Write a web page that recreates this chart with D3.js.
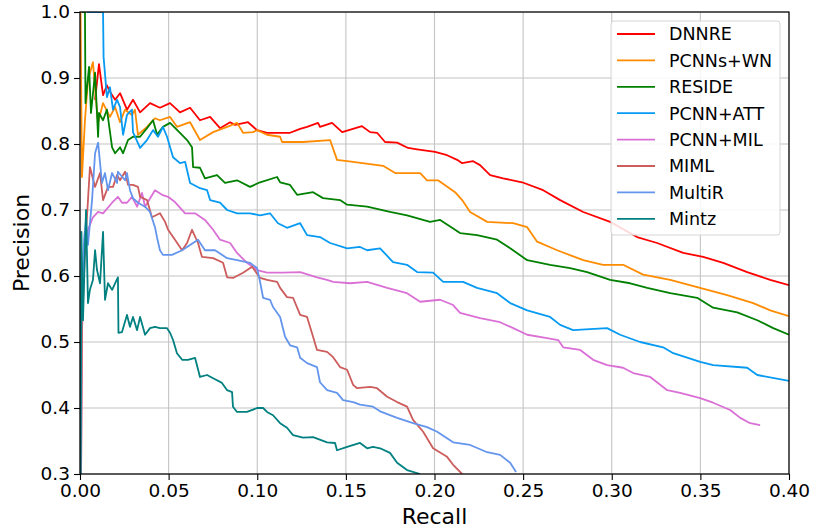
<!DOCTYPE html>
<html>
<head>
<meta charset="utf-8">
<script src="https://cdn.jsdelivr.net/npm/d3@7"></script>
<style>
  html, body { margin: 0; padding: 0; background: #fff; }
  svg { display: block; font-family: "DejaVu Sans", sans-serif; }
</style>
</head>
<body>
<svg id="chart" width="815" height="529"></svg>
<script>
// ---- data (recall, precision) ----
const seriesNames = ["DNNRE", "PCNNs+WN", "RESIDE", "PCNN+ATT", "PCNN+MIL", "MIML", "MultiR", "Mintz"];
const seriesColors = ["#ff0000", "#ff8c00", "#008000", "#069af3", "#da70d6", "#cd5c5c", "#6495ed", "#008080"];
const xTicks = [0, 0.05, 0.10, 0.15, 0.20, 0.25, 0.30, 0.35, 0.40];
const yTicks = [0.3, 0.4, 0.5, 0.6, 0.7, 0.8, 0.9, 1.0];

const dnnre = [[0.0085,0.867],[0.0107,0.921],[0.0130,0.874],[0.0152,0.889],[0.0169,0.879],[0.0198,0.867],[0.0226,0.877],[0.0265,0.852],[0.0299,0.867],[0.0339,0.848],[0.0395,0.862],[0.0451,0.855],[0.0508,0.862],[0.0564,0.848],[0.0621,0.855],[0.0677,0.836],[0.0734,0.841],[0.0790,0.824],[0.0847,0.833],[0.0875,0.829],[0.0948,0.833],[0.0999,0.821],[0.1055,0.817],[0.1185,0.817],[0.1242,0.823],[0.1281,0.826],[0.1343,0.832],[0.1354,0.826],[0.1422,0.832],[0.1479,0.818],[0.1591,0.827],[0.1637,0.818],[0.1676,0.817],[0.1721,0.803],[0.1789,0.802],[0.1851,0.794],[0.1902,0.792],[0.2003,0.788],[0.2071,0.783],[0.2128,0.776],[0.2156,0.771],[0.2218,0.774],[0.2257,0.768],[0.2314,0.753],[0.2387,0.748],[0.2494,0.742],[0.2613,0.730],[0.2709,0.715],[0.2839,0.697],[0.2991,0.682],[0.3143,0.659],[0.3256,0.650],[0.3403,0.635],[0.3516,0.629],[0.3629,0.620],[0.3764,0.606],[0.3894,0.594],[0.400,0.586]];

const pcnnsWn = [[0.0003,1.0],[0.0011,0.750],[0.0028,0.836],[0.0045,0.897],[0.0073,0.924],[0.0090,0.867],[0.0102,0.832],[0.0130,0.862],[0.0169,0.841],[0.0198,0.856],[0.0226,0.833],[0.0254,0.852],[0.0293,0.844],[0.0310,0.852],[0.0327,0.814],[0.0378,0.826],[0.0423,0.839],[0.0451,0.836],[0.0508,0.841],[0.0547,0.826],[0.0621,0.833],[0.0677,0.806],[0.0751,0.818],[0.0830,0.826],[0.0886,0.832],[0.0920,0.817],[0.0976,0.818],[0.0999,0.821],[0.1055,0.814],[0.1129,0.811],[0.1140,0.803],[0.1258,0.803],[0.1411,0.806],[0.1450,0.776],[0.1541,0.773],[0.1710,0.767],[0.1778,0.756],[0.1919,0.756],[0.1958,0.745],[0.2020,0.745],[0.2116,0.727],[0.2156,0.715],[0.2201,0.697],[0.2297,0.682],[0.2444,0.680],[0.2523,0.674],[0.2579,0.652],[0.2692,0.639],[0.2839,0.624],[0.2951,0.617],[0.3064,0.617],[0.3177,0.602],[0.3330,0.594],[0.3482,0.583],[0.3651,0.571],[0.3798,0.559],[0.3894,0.548],[0.400,0.539]];

const reside = [[0.0011,1.0],[0.0028,1.0],[0.0031,0.862],[0.0051,0.917],[0.0062,0.847],[0.0085,0.908],[0.0102,0.811],[0.0107,0.847],[0.0130,0.836],[0.0152,0.852],[0.0181,0.795],[0.0198,0.786],[0.0226,0.795],[0.0243,0.786],[0.0271,0.806],[0.0299,0.811],[0.0339,0.811],[0.0378,0.824],[0.0412,0.836],[0.0435,0.814],[0.0468,0.826],[0.0508,0.832],[0.0564,0.817],[0.0604,0.806],[0.0632,0.795],[0.0638,0.765],[0.0677,0.764],[0.0705,0.748],[0.0773,0.753],[0.0818,0.741],[0.0886,0.745],[0.0959,0.735],[0.1016,0.742],[0.1112,0.750],[0.1129,0.742],[0.1185,0.738],[0.1225,0.723],[0.1315,0.727],[0.1371,0.718],[0.1467,0.715],[0.1507,0.708],[0.1620,0.705],[0.1749,0.697],[0.1845,0.692],[0.1975,0.682],[0.2032,0.685],[0.2144,0.665],[0.2240,0.662],[0.2353,0.655],[0.2427,0.642],[0.2523,0.624],[0.2652,0.617],[0.2765,0.612],[0.2861,0.606],[0.2991,0.594],[0.3104,0.589],[0.3200,0.582],[0.3330,0.574],[0.3482,0.567],[0.3572,0.552],[0.3708,0.545],[0.3821,0.533],[0.3911,0.521],[0.400,0.511]];

const pcnnAtt = [[0.0040,1.0],[0.0130,1.0],[0.0133,0.932],[0.0152,0.871],[0.0169,0.886],[0.0186,0.852],[0.0209,0.867],[0.0226,0.856],[0.0243,0.814],[0.0265,0.844],[0.0293,0.852],[0.0299,0.818],[0.0339,0.794],[0.0378,0.806],[0.0412,0.821],[0.0440,0.811],[0.0468,0.826],[0.0491,0.811],[0.0525,0.780],[0.0564,0.771],[0.0593,0.773],[0.0621,0.741],[0.0677,0.733],[0.0717,0.730],[0.0734,0.715],[0.0790,0.711],[0.0830,0.700],[0.0886,0.695],[0.0959,0.695],[0.1016,0.692],[0.1072,0.695],[0.1117,0.680],[0.1168,0.673],[0.1242,0.680],[0.1281,0.662],[0.1354,0.659],[0.1411,0.650],[0.1507,0.642],[0.1580,0.644],[0.1620,0.639],[0.1693,0.642],[0.1766,0.621],[0.1845,0.617],[0.1902,0.606],[0.1992,0.605],[0.2049,0.591],[0.2161,0.591],[0.2240,0.582],[0.2353,0.574],[0.2427,0.559],[0.2523,0.548],[0.2652,0.538],[0.2709,0.526],[0.2782,0.518],[0.2974,0.521],[0.3047,0.511],[0.3160,0.500],[0.3290,0.492],[0.3347,0.483],[0.3499,0.470],[0.3572,0.465],[0.3764,0.461],[0.3821,0.450],[0.400,0.441]];

const pcnnMil = [[0.0006,0.300],[0.0011,0.503],[0.0017,0.614],[0.0045,0.670],[0.0073,0.689],[0.0102,0.697],[0.0130,0.695],[0.0181,0.711],[0.0214,0.720],[0.0237,0.711],[0.0265,0.711],[0.0293,0.720],[0.0322,0.705],[0.0350,0.726],[0.0367,0.705],[0.0423,0.730],[0.0463,0.723],[0.0497,0.720],[0.0536,0.712],[0.0593,0.695],[0.0649,0.695],[0.0705,0.685],[0.0751,0.670],[0.0790,0.655],[0.0847,0.650],[0.0886,0.635],[0.0942,0.620],[0.0999,0.609],[0.1055,0.605],[0.1146,0.605],[0.1242,0.606],[0.1337,0.598],[0.1394,0.594],[0.1428,0.591],[0.1524,0.589],[0.1620,0.591],[0.1733,0.582],[0.1845,0.574],[0.1919,0.561],[0.2032,0.564],[0.2105,0.556],[0.2144,0.544],[0.2257,0.536],[0.2370,0.530],[0.2444,0.521],[0.2523,0.511],[0.2635,0.506],[0.2698,0.503],[0.2726,0.492],[0.2822,0.488],[0.2895,0.473],[0.2974,0.465],[0.3064,0.461],[0.3121,0.453],[0.3217,0.447],[0.3313,0.427],[0.3386,0.423],[0.3499,0.415],[0.3572,0.408],[0.3668,0.397],[0.3725,0.385],[0.3781,0.377],[0.3837,0.374]];

const miml = [[0.0006,0.300],[0.0011,0.518],[0.0028,0.639],[0.0045,0.715],[0.0056,0.765],[0.0085,0.735],[0.0113,0.756],[0.0130,0.715],[0.0158,0.735],[0.0186,0.735],[0.0209,0.753],[0.0226,0.745],[0.0254,0.758],[0.0271,0.738],[0.0299,0.738],[0.0327,0.735],[0.0339,0.720],[0.0378,0.715],[0.0406,0.689],[0.0451,0.695],[0.0480,0.682],[0.0497,0.670],[0.0536,0.655],[0.0576,0.639],[0.0604,0.650],[0.0632,0.670],[0.0666,0.650],[0.0688,0.629],[0.0751,0.627],[0.0807,0.620],[0.0830,0.598],[0.0863,0.597],[0.0920,0.605],[0.0971,0.614],[0.1016,0.597],[0.1055,0.594],[0.1112,0.591],[0.1129,0.582],[0.1168,0.568],[0.1202,0.567],[0.1242,0.541],[0.1281,0.538],[0.1315,0.508],[0.1337,0.488],[0.1394,0.485],[0.1428,0.477],[0.1467,0.462],[0.1507,0.458],[0.1541,0.435],[0.1563,0.430],[0.1637,0.432],[0.1676,0.430],[0.1733,0.417],[0.1789,0.409],[0.1845,0.402],[0.1879,0.382],[0.1936,0.364],[0.1992,0.339],[0.2071,0.326],[0.2105,0.314],[0.2156,0.300]];

const multiR = [[0.0003,0.300],[0.0006,0.503],[0.0011,0.564],[0.0023,0.655],[0.0034,0.685],[0.0045,0.647],[0.0068,0.715],[0.0085,0.786],[0.0102,0.802],[0.0124,0.741],[0.0141,0.756],[0.0158,0.730],[0.0181,0.756],[0.0209,0.741],[0.0214,0.758],[0.0254,0.745],[0.0265,0.756],[0.0282,0.730],[0.0299,0.718],[0.0327,0.711],[0.0367,0.705],[0.0395,0.697],[0.0423,0.674],[0.0435,0.658],[0.0451,0.639],[0.0468,0.632],[0.0519,0.632],[0.0576,0.639],[0.0621,0.647],[0.0666,0.655],[0.0705,0.639],[0.0762,0.639],[0.0830,0.627],[0.0886,0.624],[0.0959,0.620],[0.0999,0.612],[0.1016,0.591],[0.1033,0.567],[0.1072,0.564],[0.1089,0.553],[0.1129,0.538],[0.1157,0.508],[0.1185,0.495],[0.1225,0.492],[0.1242,0.476],[0.1281,0.468],[0.1337,0.462],[0.1354,0.439],[0.1394,0.427],[0.1450,0.423],[0.1484,0.412],[0.1541,0.409],[0.1580,0.405],[0.1653,0.402],[0.1693,0.395],[0.1789,0.385],[0.1879,0.377],[0.1958,0.371],[0.2015,0.364],[0.2105,0.348],[0.2201,0.344],[0.2297,0.333],[0.2370,0.329],[0.2427,0.317],[0.2460,0.303]];

const mintz = [[0.0003,0.300],[0.0008,0.667],[0.0017,0.533],[0.0034,0.700],[0.0045,0.559],[0.0056,0.579],[0.0073,0.594],[0.0085,0.639],[0.0096,0.609],[0.0113,0.589],[0.0130,0.667],[0.0141,0.564],[0.0158,0.589],[0.0181,0.579],[0.0198,0.589],[0.0214,0.598],[0.0217,0.514],[0.0237,0.515],[0.0265,0.541],[0.0282,0.523],[0.0299,0.538],[0.0322,0.518],[0.0339,0.538],[0.0367,0.511],[0.0395,0.521],[0.0423,0.523],[0.0451,0.521],[0.0491,0.521],[0.0508,0.514],[0.0525,0.503],[0.0547,0.483],[0.0576,0.473],[0.0609,0.473],[0.0649,0.476],[0.0677,0.447],[0.0717,0.450],[0.0751,0.445],[0.0801,0.438],[0.0830,0.427],[0.0858,0.424],[0.0863,0.402],[0.0886,0.394],[0.0942,0.394],[0.0999,0.400],[0.1033,0.400],[0.1055,0.394],[0.1089,0.389],[0.1129,0.377],[0.1168,0.370],[0.1202,0.359],[0.1258,0.355],[0.1315,0.356],[0.1394,0.348],[0.1439,0.347],[0.1450,0.336],[0.1507,0.341],[0.1580,0.347],[0.1620,0.339],[0.1653,0.341],[0.1693,0.339],[0.1749,0.332],[0.1789,0.317],[0.1845,0.306],[0.1919,0.300]];

const seriesData = [dnnre, pcnnsWn, reside, pcnnAtt, pcnnMil, miml, multiR, mintz];

// ---- layout ----
const svg = d3.select("#chart");
const L = 80, R = 789, T = 12, B = 474;
const x = d3.scaleLinear().domain([0, 0.4]).range([L, R]);
const y = d3.scaleLinear().domain([0.3, 1.0]).range([B, T]);

// grid
const grid = svg.append("g");
grid.selectAll("line.gx").data(xTicks).enter().append("line")
  .attr("x1", d => x(d)).attr("x2", d => x(d)).attr("y1", T).attr("y2", B)
  .attr("stroke", "#c4c4c4").attr("stroke-width", 1.1);
grid.selectAll("line.gy").data(yTicks).enter().append("line")
  .attr("x1", L).attr("x2", R).attr("y1", d => y(d)).attr("y2", d => y(d))
  .attr("stroke", "#c4c4c4").attr("stroke-width", 1.1);

// clip
svg.append("defs").append("clipPath").attr("id", "clip")
  .append("rect").attr("x", L).attr("y", T).attr("width", R - L).attr("height", B - T);

const line = d3.line().x(d => x(d[0])).y(d => y(d[1]));
const lines = svg.append("g").attr("clip-path", "url(#clip)");
seriesData.forEach((s, i) => {
  lines.append("path").datum(s)
    .attr("d", line)
    .attr("fill", "none")
    .attr("stroke", seriesColors[i])
    .attr("stroke-width", 1.8)
    .attr("stroke-linejoin", "round");
});

// axes
const xAxis = d3.axisBottom(x).tickValues(xTicks).tickFormat(d3.format(".2f")).tickSize(6).tickPadding(4);
const yAxis = d3.axisLeft(y).tickValues(yTicks).tickFormat(d3.format(".1f")).tickSize(6).tickPadding(4);
const gx = svg.append("g").attr("transform", `translate(0,${B})`).call(xAxis);
const gy = svg.append("g").attr("transform", `translate(${L},0)`).call(yAxis);
[gx, gy].forEach(g => {
  g.select(".domain").remove();
  g.selectAll("text").attr("font-size", 18.5).attr("fill", "#000").attr("font-family", "DejaVu Sans");
  g.selectAll("line").attr("stroke", "#000").attr("stroke-width", 1.1);
});

// frame
svg.append("rect").attr("x", L).attr("y", T).attr("width", R - L).attr("height", B - T)
  .attr("fill", "none").attr("stroke", "#000").attr("stroke-width", 1.2);

// axis labels
svg.append("text").attr("x", (L + R) / 2).attr("y", 524).attr("text-anchor", "middle")
  .attr("font-size", 22).text("Recall");
svg.append("text").attr("transform", `translate(29,${(T + B) / 2}) rotate(-90)`)
  .attr("text-anchor", "middle").attr("font-size", 22).text("Precision");

// legend
const lg = svg.append("g");
lg.append("rect").attr("x", 611).attr("y", 21).attr("width", 169).attr("height", 214)
  .attr("rx", 3).attr("fill", "#fff").attr("fill-opacity", 0.85)
  .attr("stroke", "#d6d6d6").attr("stroke-width", 1);
seriesNames.forEach((n, i) => {
  const yy = 34 + i * 26.4;
  lg.append("line").attr("x1", 617).attr("x2", 655).attr("y1", yy).attr("y2", yy)
    .attr("stroke", seriesColors[i]).attr("stroke-width", 1.8);
  lg.append("text").attr("x", 669).attr("y", yy).attr("dy", "0.36em")
    .attr("font-size", 17.5).text(n);
});
</script>
</body>
</html>
